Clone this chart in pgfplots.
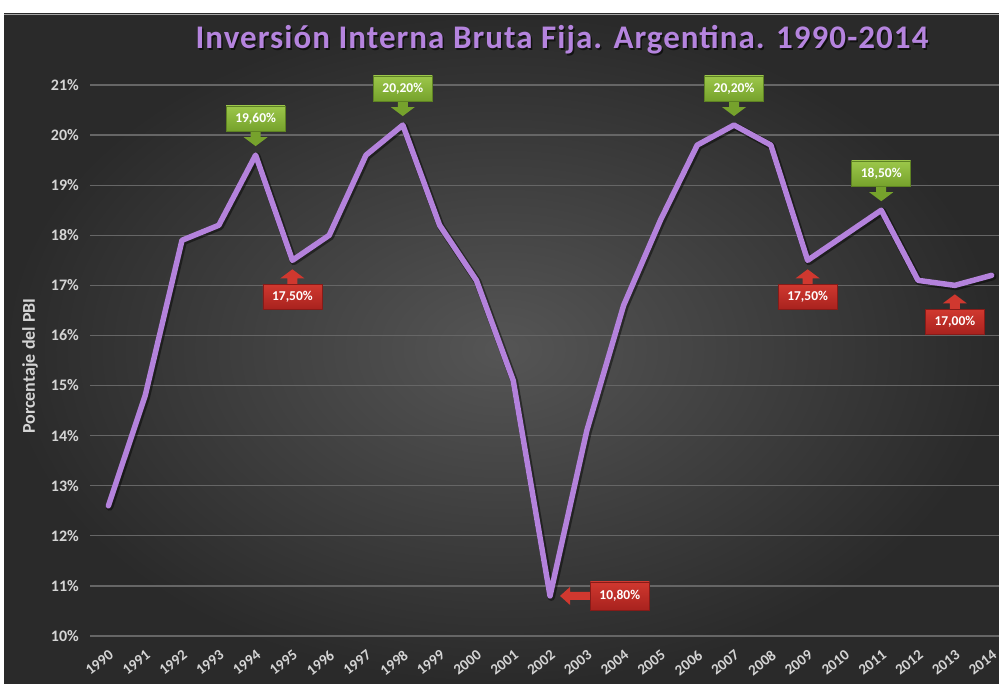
\documentclass[border=0pt]{standalone}
\usepackage{fontspec}
\setmainfont{Carlito}
\newfontfamily\titlefont[LetterSpace=3.2]{Carlito}
\usepackage{pgfplots}
\usepackage{pgfplotstable}
\pgfplotsset{compat=1.18}
\definecolor{bgin}{HTML}{555555}
\definecolor{bgout}{HTML}{2A2A2A}
\definecolor{gridc}{HTML}{666666}
\definecolor{linec}{HTML}{B482DC}
\definecolor{titlec}{HTML}{B584DE}
\definecolor{tickc}{HTML}{D4D4D4}
\definecolor{gtop}{HTML}{9CC74A}
\definecolor{gbot}{HTML}{76A22C}
\definecolor{rtop}{HTML}{D0382F}
\definecolor{rbot}{HTML}{A8221E}

% idx = year - 1990
\pgfplotstableread{
idx val
0 12.6
1 14.8
2 17.9
3 18.2
4 19.6
5 17.5
6 18.0
7 19.6
8 20.2
9 18.2
10 17.1
11 15.1
12 10.8
13 14.1
14 16.6
15 18.3
16 19.8
17 20.2
18 19.8
19 17.5
20 18.0
21 18.5
22 17.1
23 17.0
24 17.2
}\datatable

\newcommand{\boxfont}{\bfseries\fontsize{13.5bp}{15bp}\selectfont}
\newcommand{\greencall}[3]{%
  \path (axis cs:#1,#2) ++(0bp,9bp) coordinate (tip);
  \fill[gbot] (tip) -- ++(-12bp,9bp) -- ++(7bp,0bp) -- ++(0bp,8bp) -- ++(10bp,0bp) -- ++(0bp,-8bp) -- ++(7bp,0bp) -- cycle;
  \node[anchor=south, minimum width=59bp, minimum height=25bp, inner sep=0pt,
        top color=gtop, bottom color=gbot, draw=gbot!80!black, line width=0.5bp,
        text=white, font=\boxfont] at ([yshift=15bp]tip) {#3};
}
\newcommand{\redcall}[3]{%
  \path (axis cs:#1,#2) ++(0bp,-9bp) coordinate (tip);
  \fill[rtop] (tip) -- ++(-12bp,-9bp) -- ++(7bp,0bp) -- ++(0bp,-8bp) -- ++(10bp,0bp) -- ++(0bp,8bp) -- ++(7bp,0bp) -- cycle;
  \node[anchor=north, minimum width=59bp, minimum height=25bp, inner sep=0pt,
        top color=rtop, bottom color=rbot, draw=rbot!80!black, line width=0.5bp,
        text=white, font=\boxfont] at ([yshift=-15bp]tip) {#3};
}

\begin{document}
\begin{tikzpicture}
\useasboundingbox (0,0) rectangle (999bp,684bp);
\fill[white] (0,0) rectangle (999bp,684bp);
\shade[inner color=bgin, outer color=bgout] (4bp,0) rectangle (999bp,670bp);
\draw[gray!70, line width=0.8bp] (4bp,670bp) -- (999bp,670bp);
\node[text=black, opacity=0.6] at (563.5bp,642.5bp) {\titlefont\bfseries\fontsize{33bp}{40bp}\selectfont Inversión Interna Bruta Fija. Argentina. 1990-2014};
\node[text=titlec] at (562bp,644bp) {\titlefont\bfseries\fontsize{33bp}{40bp}\selectfont Inversión Interna Bruta Fija. Argentina. 1990-2014};
\begin{axis}[
  at={(90bp,48bp)}, anchor=south west, scale only axis,
  width=909bp, height=551bp,
  xmin=-0.5, xmax=24.2, ymin=10, ymax=21,
  clip=false,
  axis line style={draw=none}, major tick style={draw=none},
  ymajorgrids, grid style={color=gridc, line width=1.2bp},
  xtick={0,...,24},
  xticklabels={1990,1991,1992,1993,1994,1995,1996,1997,1998,1999,2000,2001,2002,2003,2004,2005,2006,2007,2008,2009,2010,2011,2012,2013,2014},
  ytick={10,...,21},
  yticklabels={10\%,11\%,12\%,13\%,14\%,15\%,16\%,17\%,18\%,19\%,20\%,21\%},
  ticklabel style={text=tickc, font=\bfseries\fontsize{16bp}{18bp}\selectfont},
  xticklabel style={font=\bfseries\fontsize{15bp}{17bp}\selectfont, xshift=0bp, yshift=-13bp, rotate=38, anchor=north east, inner sep=0bp},
  yticklabel style={xshift=-11bp, inner sep=0bp},
  ylabel={Porcentaje del PBI},
  ylabel style={at={(axis description cs:-0.066,0.49)}, anchor=center, text=tickc, font=\bfseries\fontsize{18bp}{20bp}\selectfont},
]
\addplot[black, opacity=0.45, line width=7.5bp, line join=round, line cap=round, xshift=1.2bp, yshift=-1.2bp] table[x=idx, y=val] {\datatable};
\addplot[linec, line width=5.5bp, line join=round, line cap=round] table[x=idx, y=val] {\datatable};
\greencall{4}{19.6}{19,60\%}
\greencall{8}{20.2}{20,20\%}
\greencall{17}{20.2}{20,20\%}
\greencall{21}{18.5}{18,50\%}
\redcall{5}{17.5}{17,50\%}
\redcall{19}{17.5}{17,50\%}
\redcall{23}{17.0}{17,00\%}
\path (axis cs:12,10.8) ++(10bp,0bp) coordinate (tip);
\fill[rtop] (tip) -- ++(10bp,9bp) -- ++(0bp,-5bp) -- ++(20bp,0bp) -- ++(0bp,-8bp) -- ++(-20bp,0bp) -- ++(0bp,-5bp) -- cycle;
\node[anchor=west, minimum width=59bp, minimum height=28bp, inner sep=0pt,
      top color=rtop, bottom color=rbot, draw=rbot!80!black, line width=0.5bp,
      text=white, font=\boxfont] at ([xshift=30bp]tip) {10,80\%};
\end{axis}
\end{tikzpicture}
\end{document}
